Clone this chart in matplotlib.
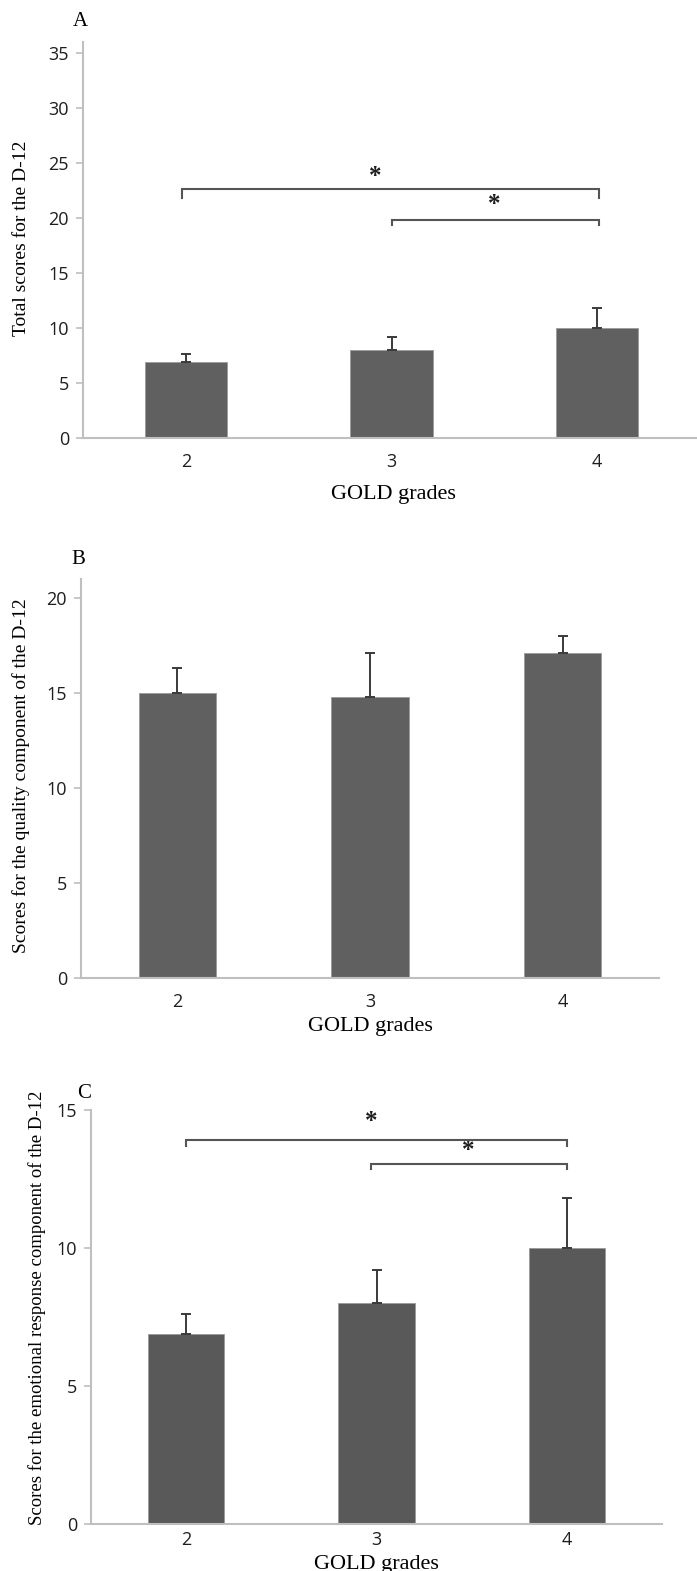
import matplotlib
matplotlib.use("Agg")
import matplotlib.pyplot as plt
import numpy as np

# data
grades = ["2", "3", "4"]

total_mean = [6.9, 8.0, 10.0]
total_err = [0.7, 1.2, 1.8]

quality_mean = [15.0, 14.8, 17.1]
quality_err = [1.3, 2.3, 0.9]

emotional_mean = [6.9, 8.0, 10.0]
emotional_err = [0.7, 1.2, 1.8]

# significance brackets: (x0, x1, height, drop, star_x, star_y)
total_sig = [(-0.02, 2.01, 22.6, 0.8, 0.92, 23.8),
             (1.0, 2.01, 19.8, 0.45, 1.50, 21.2)]
emotional_sig = [(0.0, 2.0, 13.9, 0.2, 0.97, 14.57),
                 (0.97, 2.0, 13.05, 0.2, 1.48, 13.55)]

W, H = 697, 1571
fig = plt.figure(figsize=(W / 100, H / 100), dpi=100)

SERIF = "Liberation Serif"
SANS = "Open Sans"
SPINE = "#bfbfbf"


def px_axes(left, right, bottom, top):
    return fig.add_axes([left / W, 1 - bottom / H, (right - left) / W, (bottom - top) / H])


def draw_panel(ax, means, errs, color, ylim, step):
    x = np.arange(len(grades))
    ax.bar(x, means, width=0.4, color=color, edgecolor="#9a9a9a", linewidth=0.6, zorder=2)
    ax.errorbar(x, means, yerr=[np.zeros(len(errs)), errs], fmt="none",
                ecolor="#3a3a3a", elinewidth=1.4, capsize=3.5, capthick=1.4, zorder=3)
    ax.set_xlim(-0.5, len(grades) - 0.5)
    ax.set_ylim(*ylim)
    ax.set_yticks(np.arange(0, ylim[1] + 0.01, step))
    ax.set_xticks(x)
    ax.set_xticklabels(grades)
    for s in ["top", "right"]:
        ax.spines[s].set_visible(False)
    for s in ["left", "bottom"]:
        ax.spines[s].set_color(SPINE)
        ax.spines[s].set_linewidth(1.5)
    ax.tick_params(axis="y", length=5, width=1.2, color=SPINE, pad=5, labelsize=13, labelcolor="#1e1e1e")
    ax.tick_params(axis="x", length=0, pad=11, labelsize=13, labelcolor="#1e1e1e")
    for lab in ax.get_xticklabels() + ax.get_yticklabels():
        lab.set_fontfamily(SANS)


def draw_sig(ax, sig):
    for x0, x1, h, d, sx, sy in sig:
        ax.plot([x0, x0, x1, x1], [h - d, h, h, h - d], color="#555555", lw=1.5,
                solid_joinstyle="miter", clip_on=False, zorder=4)
        ax.text(sx, sy, "*", ha="center", va="center", fontsize=18, fontweight="bold",
                family=SERIF, color="#1e1e1e")


# Panel A
axA = px_axes(83, 700, 438, 42)
draw_panel(axA, total_mean, total_err, "#606060", (0, 36), 5)
draw_sig(axA, total_sig)
fig.text(80 / W, 1 - 22 / H, "A", family=SERIF, fontsize=15, ha="center", va="center")
fig.text(22 / W, 1 - 238 / H, "Total scores for the D-12", family=SERIF, fontsize=14,
         rotation=90, ha="center", va="center")
fig.text(393 / W, 1 - 494 / H, "GOLD grades", family=SERIF, fontsize=16, ha="center", va="center")

# Panel B
axB = px_axes(81, 659, 978, 579)
draw_panel(axB, quality_mean, quality_err, "#606060", (0, 21), 5)
fig.text(78 / W, 1 - 560 / H, "B", family=SERIF, fontsize=15, ha="center", va="center")
fig.text(21 / W, 1 - 776 / H, "Scores for the quality component of the D-12", family=SERIF,
         fontsize=14, rotation=90, ha="center", va="center")
fig.text(370 / W, 1 - 1027 / H, "GOLD grades", family=SERIF, fontsize=16, ha="center", va="center")

# Panel C
axC = px_axes(91, 662, 1524, 1110)
draw_panel(axC, emotional_mean, emotional_err, "#595959", (0, 15), 5)
axC.tick_params(axis="x", pad=5)
draw_sig(axC, emotional_sig)
fig.text(84 / W, 1 - 1093 / H, "C", family=SERIF, fontsize=15, ha="center", va="center")
fig.text(37 / W, 1 - 1308 / H, "Scores for the emotional response component of the D-12",
         family=SERIF, fontsize=13.5, rotation=90, ha="center", va="center")
fig.text(376 / W, 1 - 1564 / H, "GOLD grades", family=SERIF, fontsize=16, ha="center", va="center")

fig.savefig("out.png", dpi=100)
